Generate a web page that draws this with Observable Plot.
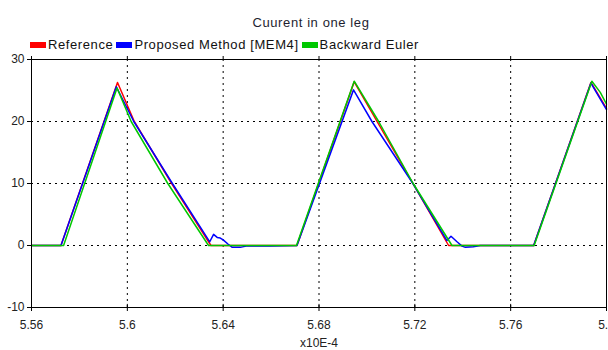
<!DOCTYPE html>
<html><head><meta charset="utf-8">
<script src="https://cdn.jsdelivr.net/npm/d3@7"></script>
<script src="https://cdn.jsdelivr.net/npm/@observablehq/plot@0.6"></script>
<style>
body{margin:0;background:#fff;font-family:"Liberation Sans",Arial,sans-serif;}
#wrap{position:relative;width:608px;height:350px;overflow:hidden;background:#fff}
#title{position:absolute;top:15px;left:0;width:622px;text-align:center;font-size:13px;letter-spacing:0.6px;color:#1e1e30;line-height:16px}
#legend{position:absolute;top:38px;left:30px;display:flex;align-items:center;font-size:13px;letter-spacing:0.6px;color:#111;line-height:14px;white-space:nowrap}
#legend .sw{display:inline-block;width:16px;height:6px;margin-right:2px}
#legend .it{display:flex;align-items:center;margin-right:3px}
#chart{position:absolute;top:52px;left:0}
</style></head>
<body><div id="wrap"><div id="title">Cuurent in one leg</div><div id="legend"></div><div id="chart"></div></div>
<script>
const seriesNames = ["Reference", "Proposed Method [MEM4]", "Backward Euler"];
const seriesColors = ["#ff0000", "#0000ff", "#00c800"];

const xRef = [5.56, 5.5723, 5.5959, 5.6029, 5.6185, 5.6349, 5.6708, 5.6947, 5.7192, 5.7341, 5.7696, 5.7935, 5.80];
const yRef = [0, 0, 26.3, 20, 10, 0, 0, 26.4, 10, 0, 0, 26.3, 22.1];

const xMem = [5.56, 5.5723, 5.5954, 5.6027, 5.6188, 5.6344, 5.6360, 5.6375, 5.6388, 5.6400, 5.6421, 5.6438, 5.6471, 5.6496, 5.6597, 5.6708, 5.6944, 5.7021, 5.7192, 5.7334, 5.7351, 5.7376, 5.7397, 5.7411, 5.7444, 5.7473, 5.7696, 5.7935, 5.80];
const yMem = [0, 0, 25.6, 20, 10, 0.6, 1.8, 1.3, 1.2, 0.9, 0.2, -0.3, -0.3, -0.1, -0.1, 0, 25.1, 20, 10, 0.8, 1.5, 0.6, -0.1, -0.3, -0.2, 0, 0, 26.2, 21.9];

const xBE = [5.56, 5.5734, 5.5957, 5.6016, 5.6169, 5.6339, 5.6706, 5.6947, 5.7049, 5.7193, 5.7355, 5.7698, 5.7939, 5.7974, 5.80];
const yBE = [0, 0, 25.4, 20, 10, 0, 0, 26.5, 20, 10, 0, 0, 26.5, 24.7, 22.8];

const xTicks = [5.56, 5.60, 5.64, 5.68, 5.72, 5.76, 5.80];
const xTickLabels = ["5.56", "5.6", "5.64", "5.68", "5.72", "5.76", "5.8"];
const xGrid = [5.60, 5.64, 5.68, 5.72, 5.76];
const yTicks = [-10, 0, 10, 20, 30];
const yGrid = [0, 10, 20];
const xLabel = "x10E-4";

const toRows = (xs, ys) => xs.map((x, i) => ({x, y: ys[i]}));
const allSeries = [toRows(xRef, yRef), toRows(xMem, yMem), toRows(xBE, yBE)];

const legend = document.getElementById("legend");
seriesNames.forEach((n, i) => {
  const it = document.createElement("span"); it.className = "it";
  const sw = document.createElement("span"); sw.className = "sw"; sw.style.background = seriesColors[i];
  it.appendChild(sw); it.appendChild(document.createTextNode(n)); legend.appendChild(it);
});

const chart = Plot.plot({
  width: 608, height: 298,
  marginTop: 7, marginBottom: 43, marginLeft: 31, marginRight: 2,
  style: {fontFamily: "'Liberation Sans', Arial, sans-serif", fontSize: "12px", color: "#222", background: "white"},
  x: {domain: [5.56, 5.80]},
  y: {domain: [-10, 30]},
  marks: [
    Plot.gridY(yGrid, {stroke: "#000", strokeOpacity: 1, strokeDasharray: "2,4"}),
    Plot.gridX(xGrid, {stroke: "#000", strokeOpacity: 1, strokeDasharray: "2,4"}),
    ...allSeries.map((rows, i) => Plot.line(rows, {x: "x", y: "y", stroke: seriesColors[i], strokeWidth: 1.5})),
    Plot.frame({stroke: "#000", strokeWidth: 1}),
    Plot.ruleX(xTicks, {x: d => d, y1: -10, y2: -9.5, stroke: "#000"}),
    Plot.axisY(yTicks, {tickSize: 4, tickPadding: 3, tickFormat: d => String(d), label: null, stroke: "#000", fill: "#222"}),
    Plot.axisX(xTicks, {tickSize: 4, tickPadding: 9, tickFormat: (d, i) => xTickLabels[i], label: xLabel, labelAnchor: "center", labelArrow: "none", labelOffset: 39, stroke: "#000", fill: "#222"}),
    Plot.axisX(xTicks, {anchor: "top", tickSize: 4, tickFormat: () => "", label: null, stroke: "#000"})
  ]
});
document.getElementById("chart").appendChild(chart);
</script></body></html>
